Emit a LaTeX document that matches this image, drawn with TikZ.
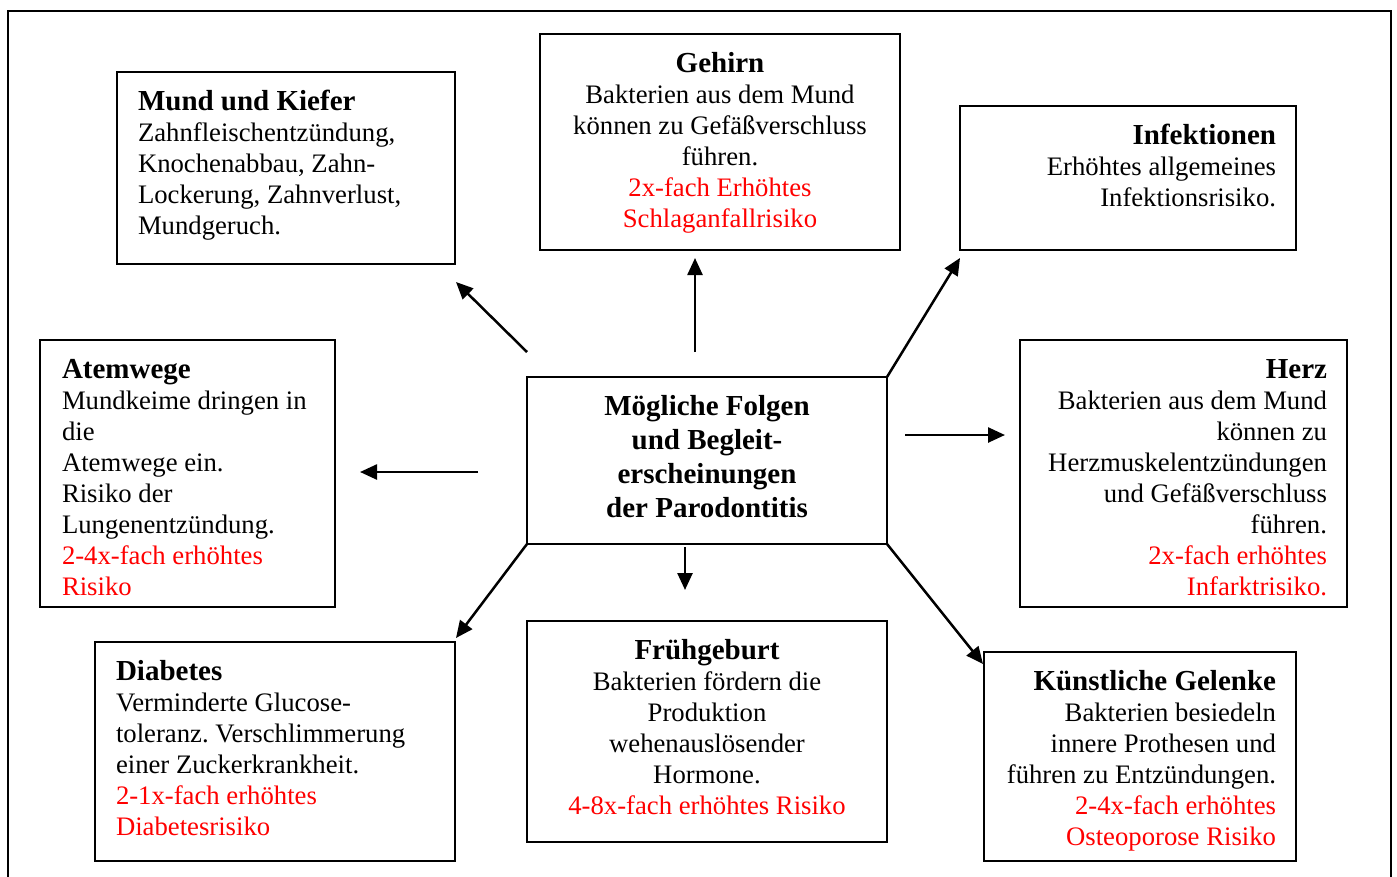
\documentclass[tikz,border=0pt]{standalone}
\usepackage{fontspec}
\setmainfont{Liberation Serif}
\usetikzlibrary{arrows.meta,calc}
\newcommand\hd[1]{{\fontsize{29}{31}\selectfont\bfseries\rule{0pt}{22pt}#1}}
\newcommand\rd[1]{\textcolor{red}{#1}}
\begin{document}
\frenchspacing
\begin{tikzpicture}[x=1pt,y=-1pt,
  box/.style={draw=black,line width=2pt,inner sep=0pt,outer sep=0pt,anchor=north west},
  txt/.style={inner sep=0pt,outer sep=0pt,font=\fontsize{26.7}{31}\selectfont\frenchspacing},
  arr/.style={line width=2.5pt,-{Triangle[length=17pt,width=15pt]}}]
\useasboundingbox (0,0) rectangle (1397,876);
\draw[line width=2.6pt] (8,880) -- (8,11) -- (1391,11) -- (1391,880);

% boxes
\node[box,minimum width=338pt,minimum height=192pt] (mund) at (117,72) {};
\node[box,minimum width=360pt,minimum height=216pt] (gehirn) at (540,34) {};
\node[box,minimum width=336pt,minimum height=144pt] (infekt) at (960,106) {};
\node[box,minimum width=295pt,minimum height=267pt] (atem) at (40,340) {};
\node[box,minimum width=327pt,minimum height=267pt] (herz) at (1020,340) {};
\node[box,minimum width=360pt,minimum height=219pt] (diab) at (95,642) {};
\node[box,minimum width=360pt,minimum height=221pt] (frueh) at (527,621) {};
\node[box,minimum width=312pt,minimum height=209pt] (gelenk) at (984,652) {};
\node[box,minimum width=360pt,minimum height=167pt] (center) at (527,377) {};

% texts
\node[txt,anchor=north west,align=left] (tmund) at ($(mund.north west)+(21,16)$)
  {\hd{Mund und Kiefer}\\Zahnfleischentzündung,\\Knochenabbau, Zahn-\\Lockerung, Zahnverlust,\\Mundgeruch.};
\node[txt,anchor=north,align=center] (tgehirn) at ($(gehirn.north)+(0,16)$)
  {\hd{Gehirn}\\Bakterien aus dem Mund\\können zu Gefäßverschluss\\führen.\\\rd{2x-fach Erhöhtes}\\\rd{Schlaganfallrisiko}};
\node[txt,anchor=north east,align=right] (tinfekt) at ($(infekt.north east)+(-20,16)$)
  {\hd{Infektionen}\\Erhöhtes allgemeines\\Infektionsrisiko.};
\node[txt,anchor=north west,align=left] (tatem) at ($(atem.north west)+(22,16)$)
  {\hd{Atemwege}\\Mundkeime dringen in\\die\\Atemwege ein.\\Risiko der\\Lungenentzündung.\\\rd{2-4x-fach erhöhtes}\\\rd{Risiko}};
\node[txt,anchor=north east,align=right] (therz) at ($(herz.north east)+(-20,16)$)
  {\hd{Herz}\\Bakterien aus dem Mund\\können zu\\Herzmuskelentzündungen\\und Gefäßverschluss\\führen.\\\rd{2x-fach erhöhtes}\\\rd{Infarktrisiko.}};
\node[txt,anchor=north west,align=left] (tdiab) at ($(diab.north west)+(21,16)$)
  {\hd{Diabetes}\\Verminderte Glucose-\\toleranz. Verschlimmerung\\einer Zuckerkrankheit.\\\rd{2-1x-fach erhöhtes}\\\rd{Diabetesrisiko}};
\node[txt,anchor=north,align=center] (tfrueh) at ($(frueh.north)+(0,16)$)
  {\hd{Frühgeburt}\\Bakterien fördern die\\Produktion\\wehenauslösender\\Hormone.\\\rd{4-8x-fach erhöhtes Risiko}};
\node[txt,anchor=north east,align=right] (tgelenk) at ($(gelenk.north east)+(-20,16)$)
  {\hd{Künstliche Gelenke}\\Bakterien besiedeln\\innere Prothesen und\\führen zu Entzündungen.\\\rd{2-4x-fach erhöhtes}\\\rd{Osteoporose Risiko}};
\node[txt,anchor=north,align=center,font=\fontsize{29}{34}\selectfont\bfseries] (tcenter) at ($(center.north)+(0,16)$)
  {\rule{0pt}{22pt}Mögliche Folgen\\und Begleit-\\erscheinungen\\der Parodontitis};

% arrow end points
\coordinate (mundS) at (527,352);  \coordinate (mundE) at (456,282);
\coordinate (gehS) at (695,352);   \coordinate (gehE) at (695,258);
\coordinate (infE) at (960,258);
\coordinate (herzS) at (905,435);  \coordinate (herzE) at (1005,435);
\coordinate (atemS) at (478,472);  \coordinate (atemE) at (360,472);
\coordinate (diabE) at (456,638);
\coordinate (fruehS) at (685,547); \coordinate (fruehE) at (685,590);
\coordinate (gelE) at (983,664);

\draw[arr] (mundS) -- (mundE);
\draw[arr] (gehS) -- (gehE);
\draw[arr] (center.north east) -- (infE);
\draw[arr] (herzS) -- (herzE);
\draw[arr] (atemS) -- (atemE);
\draw[arr] (center.south west) -- (diabE);
\draw[arr] (fruehS) -- (fruehE);
\draw[arr] (center.south east) -- (gelE);
\end{tikzpicture}
\end{document}
